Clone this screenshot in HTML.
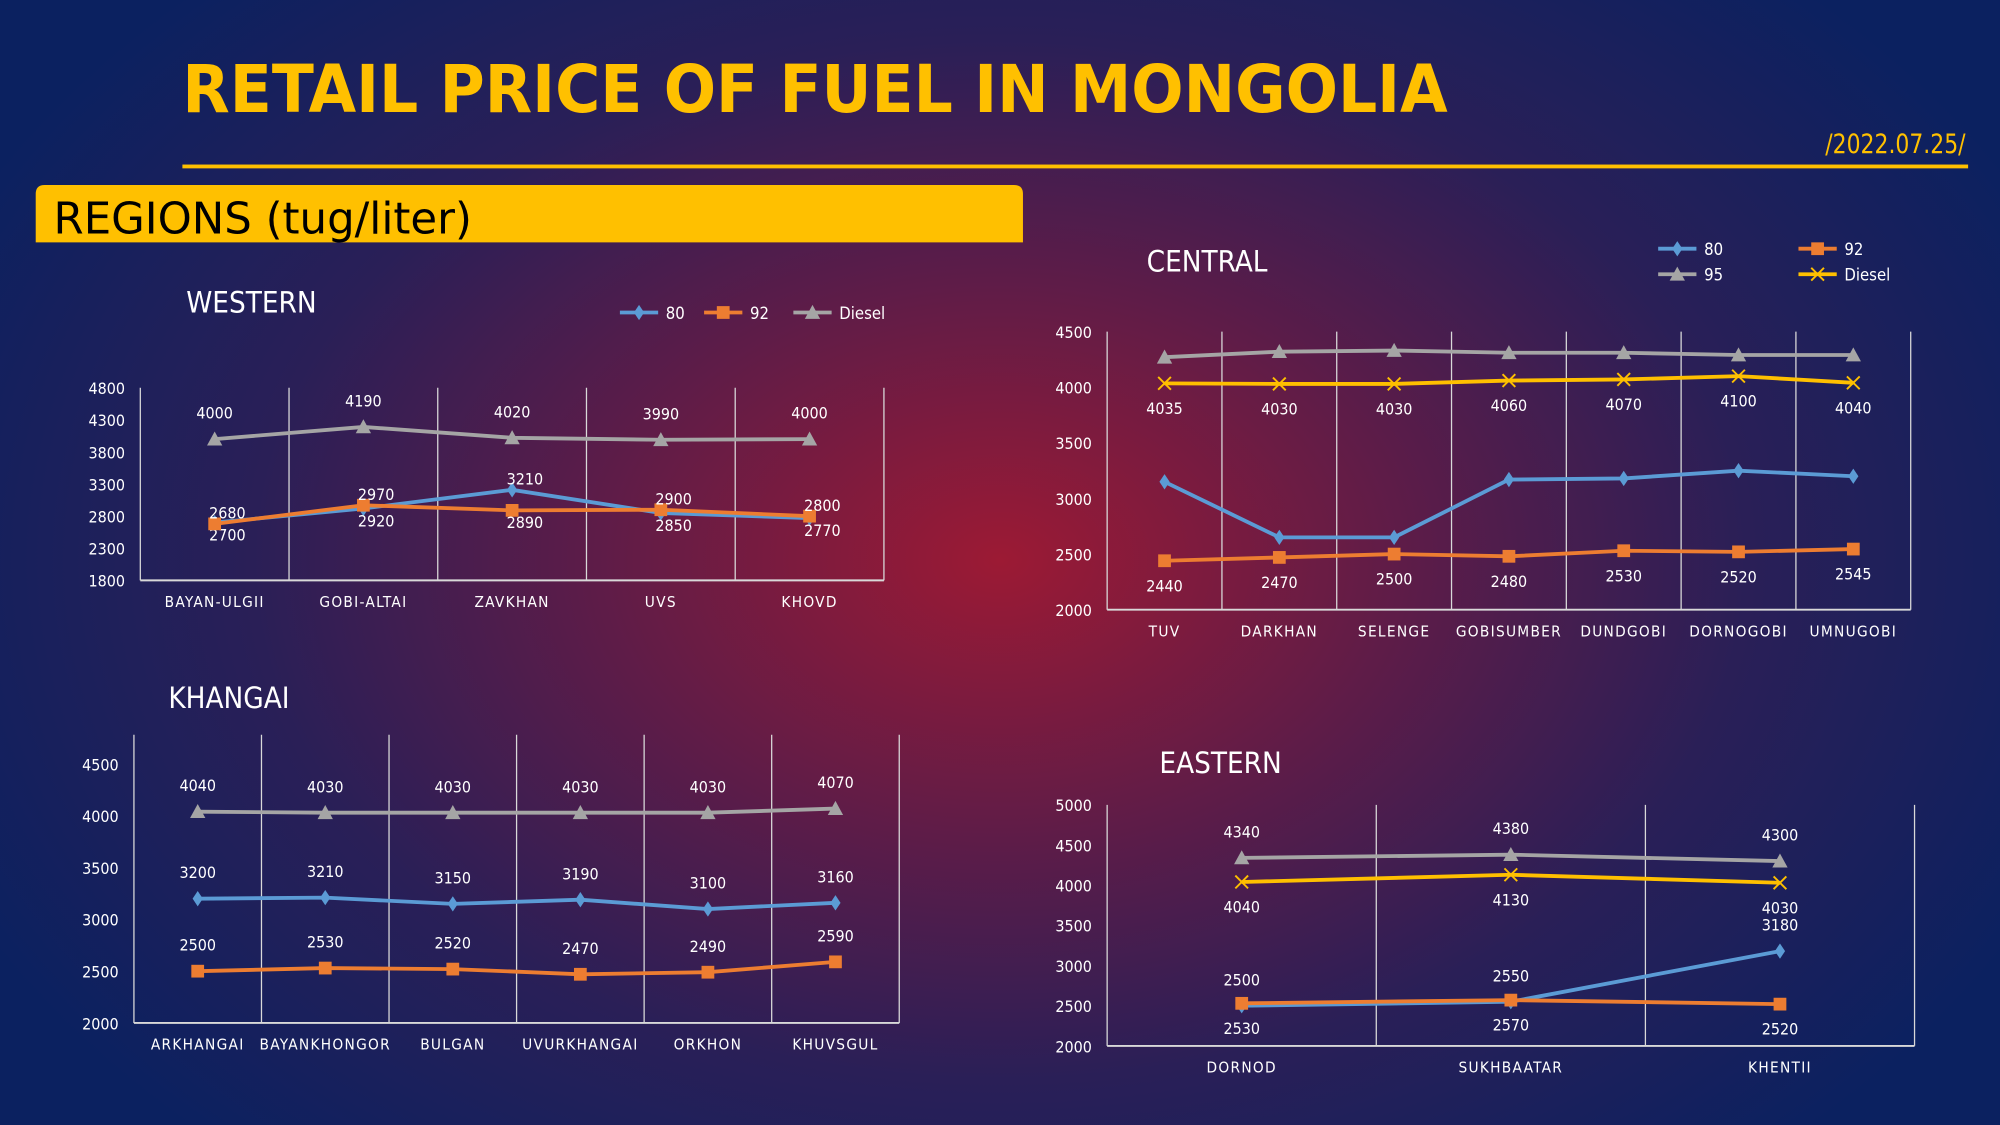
<!DOCTYPE html>
<html><head><meta charset="utf-8"><style>
html,body{margin:0;padding:0;width:2000px;height:1125px;overflow:hidden}
body{background:radial-gradient(ellipse 1150px 800px at 1000px 560px,#9c1a34 0%,#5e1c48 35%,#2a1f57 65%,#0b2160 100%)}
svg{position:absolute;left:0;top:0}
text{font-family:"DejaVu Sans Condensed","Liberation Sans Narrow","Liberation Sans",sans-serif}
</style></head><body>
<svg id="s" width="2000" height="1125" viewBox="0 0 1568 882" xmlns="http://www.w3.org/2000/svg">
<text x="143" y="88" fill="#ffc000" font-size="52" font-weight="bold" textLength="992" lengthAdjust="spacingAndGlyphs">RETAIL PRICE OF FUEL IN MONGOLIA</text>
<text x="1541" y="120" fill="#ffc000" font-size="21" text-anchor="end" textLength="110" lengthAdjust="spacingAndGlyphs">/2022.07.25/</text>
<rect x="143" y="129" width="1400" height="3" fill="#ffc000"/>
<path d="M28 152 Q28 145 35 145 L795 145 Q802 145 802 152 L802 190 L28 190 Z" fill="#ffc000"/>
<text x="42" y="183" fill="#000" font-size="34" textLength="328" lengthAdjust="spacingAndGlyphs">REGIONS (tug/liter)</text>
<g id="g"></g>
</svg>
<script>
var g=document.getElementById('g'),h='';
var C={80:'#5b9bd5',92:'#ed7d31',95:'#a5a5a5',D:'#ffc000'};
function T(x,y,t,o){o=o||{};h+='<text x="'+x+'" y="'+y+'" fill="'+(o.f||'#fff')+'" font-size="'+(o.s||12)+'" text-anchor="'+(o.a||'middle')+'"'+(o.ls?' letter-spacing="'+o.ls+'"':'')+'>'+t+'</text>';}
function M(t,x,y,c){
 if(t=='d')h+='<path d="M'+x+' '+(y-6)+'L'+(x+4)+' '+y+'L'+x+' '+(y+6)+'L'+(x-4)+' '+y+'Z" fill="'+c+'"/>';
 if(t=='s')h+='<rect x="'+(x-5)+'" y="'+(y-5)+'" width="10" height="10" fill="'+c+'"/>';
 if(t=='t')h+='<path d="M'+x+' '+(y-6)+'L'+(x+6)+' '+(y+5)+'L'+(x-6)+' '+(y+5)+'Z" fill="'+c+'"/>';
 if(t=='x')h+='<path d="M'+(x-5)+' '+(y-5)+'L'+(x+5)+' '+(y+5)+'M'+(x+5)+' '+(y-5)+'L'+(x-5)+' '+(y+5)+'" stroke="'+c+'" stroke-width="1.5"/>';
}
function chart(o){
 var n=o.cats.length,w=(o.x1-o.x0)/n,gt=o.gt||o.yt;
 function Y(v){return o.yb+(v-o.vmin)/(o.vmax-o.vmin)*(o.yt-o.yb);}
 for(var i=0;i<=n;i++){var x=o.x0+i*w;h+='<line x1="'+x+'" y1="'+gt+'" x2="'+x+'" y2="'+o.yb+'" stroke="#d9d9d9" stroke-width="1"/>';}
 h+='<line x1="'+o.x0+'" y1="'+o.yb+'" x2="'+o.x1+'" y2="'+o.yb+'" stroke="#d9d9d9" stroke-width="1.5"/>';
 for(var v=o.vmin;v<=o.vmax;v+=o.step)T(o.x0-12,Y(v)+5,v,{a:'end',s:12.5});
 o.cats.forEach(function(c,i){T(o.x0+w*(i+.5),o.yb+21,c,{s:12,ls:1});});
 o.series.forEach(function(s){
  var p=s.v.map(function(v,i){return (o.x0+w*(i+.5))+','+Y(v);}).join(' ');
  h+='<polyline points="'+p+'" fill="none" stroke="'+C[s.c]+'" stroke-width="3"/>';
  s.v.forEach(function(v,i){var x=o.x0+w*(i+.5),y=Y(v);M(s.m,x,y,C[s.c]);
   var l=s.l;if(!l)return; if(l.length>1)l=l[i];
   var off=l=='a'?(s.oa||-16):(s.ob||24);T(x+(s.dx||0),y+off,v,{s:12.5});});
 });
}
chart({x0:110,x1:693,yt:304,yb:455,vmin:1800,vmax:4800,step:500,cats:['BAYAN-ULGII','GOBI-ALTAI','ZAVKHAN','UVS','KHOVD'],
 series:[{c:'95',m:'t',v:[4000,4190,4020,3990,4000],l:'a'},{c:'80',m:'d',v:[2700,2920,3210,2850,2770],l:['b','b','a','b','b'],dx:10,oa:-4,ob:14},{c:'92',m:'s',v:[2680,2970,2890,2900,2800],l:['a','a','b','a','a'],dx:10,oa:-4,ob:14}]});
chart({x0:868,x1:1498,yt:260,yb:478,vmin:2000,vmax:4500,step:500,cats:['TUV','DARKHAN','SELENGE','GOBISUMBER','DUNDGOBI','DORNOGOBI','UMNUGOBI'],
 series:[{c:'95',m:'t',v:[4270,4320,4330,4310,4310,4290,4290]},{c:'D',m:'x',v:[4035,4030,4030,4060,4070,4100,4040],l:'b'},{c:'80',m:'d',v:[3150,2650,2650,3170,3180,3250,3200]},{c:'92',m:'s',v:[2440,2470,2500,2480,2530,2520,2545],l:'b'}]});
chart({x0:105,x1:705,yt:599,gt:576,yb:802,vmin:2000,vmax:4500,step:500,cats:['ARKHANGAI','BAYANKHONGOR','BULGAN','UVURKHANGAI','ORKHON','KHUVSGUL'],
 series:[{c:'95',m:'t',v:[4040,4030,4030,4030,4030,4070],l:'a'},{c:'80',m:'d',v:[3200,3210,3150,3190,3100,3160],l:'a'},{c:'92',m:'s',v:[2500,2530,2520,2470,2490,2590],l:'a'}]});
chart({x0:868,x1:1501,yt:631,yb:820,vmin:2000,vmax:5000,step:500,cats:['DORNOD','SUKHBAATAR','KHENTII'],
 series:[{c:'95',m:'t',v:[4340,4380,4300],l:'a'},{c:'D',m:'x',v:[4040,4130,4030],l:'b'},{c:'80',m:'d',v:[2500,2550,3180],l:'a'},{c:'92',m:'s',v:[2530,2570,2520],l:'b'}]});
T(146,245,'WESTERN',{a:'start',s:23});T(899,213,'CENTRAL',{a:'start',s:23});T(132,555,'KHANGAI',{a:'start',s:23});T(909,606,'EASTERN',{a:'start',s:23});
function L(x,y,c,m,t){h+='<line x1="'+x+'" y1="'+y+'" x2="'+(x+30)+'" y2="'+y+'" stroke="'+C[c]+'" stroke-width="3"/>';M(m,x+15,y,C[c]);T(x+36,y+5,t,{a:'start',s:13});}
L(486,245,'80','d','80');L(552,245,'92','s','92');L(622,245,'95','t','Diesel');
L(1300,195,'80','d','80');L(1410,195,'92','s','92');L(1300,215,'95','t','95');L(1410,215,'D','x','Diesel');
g.innerHTML=h;
</script>
</body></html>
